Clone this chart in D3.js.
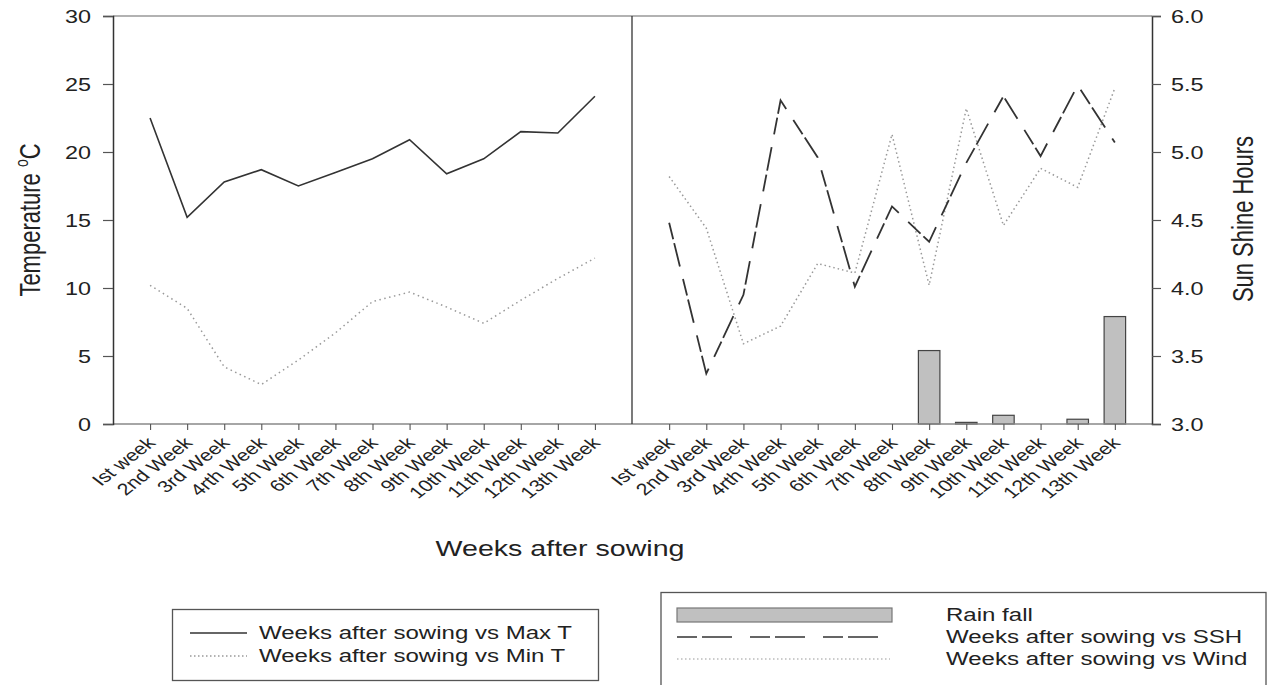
<!DOCTYPE html>
<html>
<head>
<meta charset="utf-8">
<script src="https://cdn.jsdelivr.net/npm/d3@7"></script>
<style>
  html, body { margin: 0; padding: 0; background: #fff; }
  svg { display: block; font-family: "Liberation Sans", Arial, sans-serif; }
</style>
</head>
<body>
<svg id="chart" width="1269" height="685"></svg>
<script>
// Weekly weather after sowing
const leftWeeks  = ["Ist week", "2nd Week", "3rd Week", "4rth Week", "5th Week", "6th Week", "7th Week",
                    "8th Week", "9th Week", "10th Week", "11th Week", "12th Week", "13th Week"];
const rightWeeks = leftWeeks.slice();

const maxT = [22.5, 15.2, 17.8, 18.7, 17.5, 18.5, 19.5, 20.9, 18.4, 19.5, 21.5, 21.4, 24.1];
const minT = [10.2, 8.5, 4.2, 2.9, 4.7, 6.7, 9.0, 9.7, 8.6, 7.4, 9.1, 10.7, 12.2];

const ssh  = [4.48, 3.37, 3.95, 5.38, 4.96, 4.01, 4.60, 4.34, 4.92, 5.41, 4.97, 5.49, 5.07];
const wind = [4.82, 4.44, 3.59, 3.72, 4.18, 4.11, 5.13, 4.02, 5.32, 4.46, 4.88, 4.74, 5.47];
const rain = [0, 0, 0, 0, 0, 0, 0, 5.4, 0.12, 0.64, 0, 0.35, 7.9];

const tempTicks = [0, 5, 10, 15, 20, 25, 30];
const sshTicks  = [3.0, 3.5, 4.0, 4.5, 5.0, 5.5, 6.0];

const svg = d3.select("#chart");

const plotTop = 16, plotBottom = 424;
const leftX0 = 113, midX = 632, rightX1 = 1152;
const ink = "#333";
const txt = "#222";
const SX = 1.3;              // horizontal widening of the lettering
const FONT = "'Liberation Sans', Arial, sans-serif";

// scales
const xL = d3.scalePoint().domain(leftWeeks).range([leftX0, midX]).padding(1);
const xR = d3.scalePoint().domain(rightWeeks).range([midX, rightX1]).padding(1);
const yT = d3.scaleLinear().domain([0, 30]).range([plotBottom, plotTop]);
const yS = d3.scaleLinear().domain([3, 6]).range([plotBottom, plotTop]);
const yRain = d3.scaleLinear().domain([0, 30]).range([plotBottom, plotTop]);

// widened text helper
function label(g, x, y, str, size, extra = "") {
  return g.append("text")
    .attr("transform", `translate(${x},${y}) scale(${SX},1)${extra}`)
    .attr("font-size", size).attr("fill", txt).attr("font-family", FONT)
    .text(str);
}

// rainfall bars (drawn first so lines sit on top)
const barW = 21.5;
svg.append("g").selectAll("rect").data(rightWeeks.map((w, i) => ({w, v: rain[i]})).filter(d => d.v > 0))
  .join("rect")
  .attr("x", d => xR(d.w) - barW / 2)
  .attr("y", d => yRain(d.v))
  .attr("width", barW)
  .attr("height", d => plotBottom - yRain(d.v))
  .attr("fill", "#c0c0c0")
  .attr("stroke", "#444")
  .attr("stroke-width", 1.2);

// frame
const frame = svg.append("g").attr("stroke", ink).attr("stroke-width", 1.3).attr("fill", "none");
frame.append("line").attr("x1", leftX0).attr("x2", rightX1).attr("y1", plotTop).attr("y2", plotTop).attr("stroke", "#999");
frame.append("line").attr("x1", leftX0).attr("x2", rightX1).attr("y1", plotBottom).attr("y2", plotBottom).attr("stroke", "#888");
frame.append("line").attr("x1", midX).attr("x2", midX).attr("y1", plotTop).attr("y2", plotBottom);

// left axis
const axL = svg.append("g").attr("transform", `translate(${leftX0},0)`)
  .call(d3.axisLeft(yT).tickValues(tempTicks).tickSize(10).tickFormat(d3.format("d")));
axL.selectAll(".tick text").attr("x", 0).attr("dy", "0.36em").attr("text-anchor", "end")
  .attr("transform", `translate(-22,0) scale(${SX},1)`);
// right axis
const axR = svg.append("g").attr("transform", `translate(${rightX1},0)`)
  .call(d3.axisRight(yS).tickValues(sshTicks).tickSize(9).tickFormat(d3.format(".1f")));
axR.selectAll(".tick text").attr("x", 0).attr("dy", "0.36em").attr("text-anchor", "start")
  .attr("transform", `translate(19,0) scale(${SX},1)`);
[axL, axR].forEach(a => {
  a.select(".domain").attr("stroke", ink).attr("stroke-width", 1.5);
  a.selectAll(".tick line").attr("stroke", "#555").attr("stroke-width", 1.2);
  a.selectAll(".tick text").attr("fill", txt).attr("font-size", 18).attr("font-family", FONT);
});

// bottom category axes
function catAxis(scale) {
  const g = svg.append("g").attr("transform", `translate(0,${plotBottom})`)
    .call(d3.axisBottom(scale).tickSize(6));
  g.select(".domain").remove();
  g.selectAll(".tick line").attr("stroke", "#555").attr("stroke-width", 1.1);
  g.selectAll(".tick text")
    .attr("fill", txt).attr("font-size", 16.5).attr("font-family", FONT)
    .attr("text-anchor", "end")
    .attr("dy", null).attr("y", 0).attr("x", 0)
    .attr("transform", `translate(6,20) scale(${SX},1) rotate(-45)`);
  return g;
}
catAxis(xL);
catAxis(xR);

// series lines
const lineL = (vals) => d3.line().x((d, i) => xL(leftWeeks[i])).y(d => yT(d))(vals);
const lineR = (vals) => d3.line().x((d, i) => xR(rightWeeks[i])).y(d => yS(d))(vals);

svg.append("path").attr("d", lineL(maxT)).attr("fill", "none").attr("stroke", "#333").attr("stroke-width", 1.6);
svg.append("path").attr("d", lineL(minT)).attr("fill", "none").attr("stroke", "#999").attr("stroke-width", 1.5)
  .attr("stroke-dasharray", "1.5,3.5");
svg.append("path").attr("d", lineR(wind)).attr("fill", "none").attr("stroke", "#999").attr("stroke-width", 1.5)
  .attr("stroke-dasharray", "1.5,3");
svg.append("path").attr("d", lineR(ssh)).attr("fill", "none").attr("stroke", "#333").attr("stroke-width", 1.8)
  .attr("stroke-dasharray", "17,4,24,13");

// axis titles
const tTitle = svg.append("text")
  .attr("transform", `translate(40,220) scale(${SX},1) rotate(-90)`)
  .attr("text-anchor", "middle").attr("font-size", 22).attr("fill", txt).attr("font-family", FONT);
tTitle.append("tspan").text("Temperature ");
tTitle.append("tspan").attr("font-size", 14).attr("dy", -9).text("o");
tTitle.append("tspan").attr("dy", 9).text("C");

label(svg, 1253, 219, "Sun Shine Hours", 22, " rotate(-90)").attr("text-anchor", "middle");
label(svg, 560, 556, "Weeks after sowing", 22).attr("text-anchor", "middle");

// legend: temperature
const lg1 = svg.append("g");
lg1.append("rect").attr("x", 172.5).attr("y", 609.5).attr("width", 426).attr("height", 71)
  .attr("fill", "none").attr("stroke", "#555").attr("stroke-width", 1.3);
lg1.append("line").attr("x1", 190).attr("x2", 247).attr("y1", 633).attr("y2", 633)
  .attr("stroke", "#333").attr("stroke-width", 1.4);
lg1.append("line").attr("x1", 190).attr("x2", 247).attr("y1", 656).attr("y2", 656)
  .attr("stroke", "#999").attr("stroke-width", 1.3).attr("stroke-dasharray", "1.5,2.5");
label(lg1, 259, 639, "Weeks after sowing vs Max T", 18.5);
label(lg1, 259, 662, "Weeks after sowing vs Min T", 18.5);

// legend: sunshine, wind, rain
const lg2 = svg.append("g");
lg2.append("rect").attr("x", 661).attr("y", 592.5).attr("width", 605).attr("height", 110)
  .attr("fill", "none").attr("stroke", "#555").attr("stroke-width", 1.3);
lg2.append("rect").attr("x", 677).attr("y", 608).attr("width", 215).attr("height", 14)
  .attr("fill", "#c0c0c0").attr("stroke", "#777").attr("stroke-width", 1.2);
lg2.append("line").attr("x1", 677).attr("x2", 890).attr("y1", 637).attr("y2", 637)
  .attr("stroke", "#333").attr("stroke-width", 1.5).attr("stroke-dasharray", "20,5,30,18");
lg2.append("line").attr("x1", 677).attr("x2", 890).attr("y1", 659).attr("y2", 659)
  .attr("stroke", "#999").attr("stroke-width", 1.2).attr("stroke-dasharray", "1.5,2.5");
label(lg2, 946, 621, "Rain fall", 18.5);
label(lg2, 946, 643, "Weeks after sowing vs SSH", 18.5);
label(lg2, 946, 665, "Weeks after sowing vs Wind", 18.5);
</script>
</body>
</html>
